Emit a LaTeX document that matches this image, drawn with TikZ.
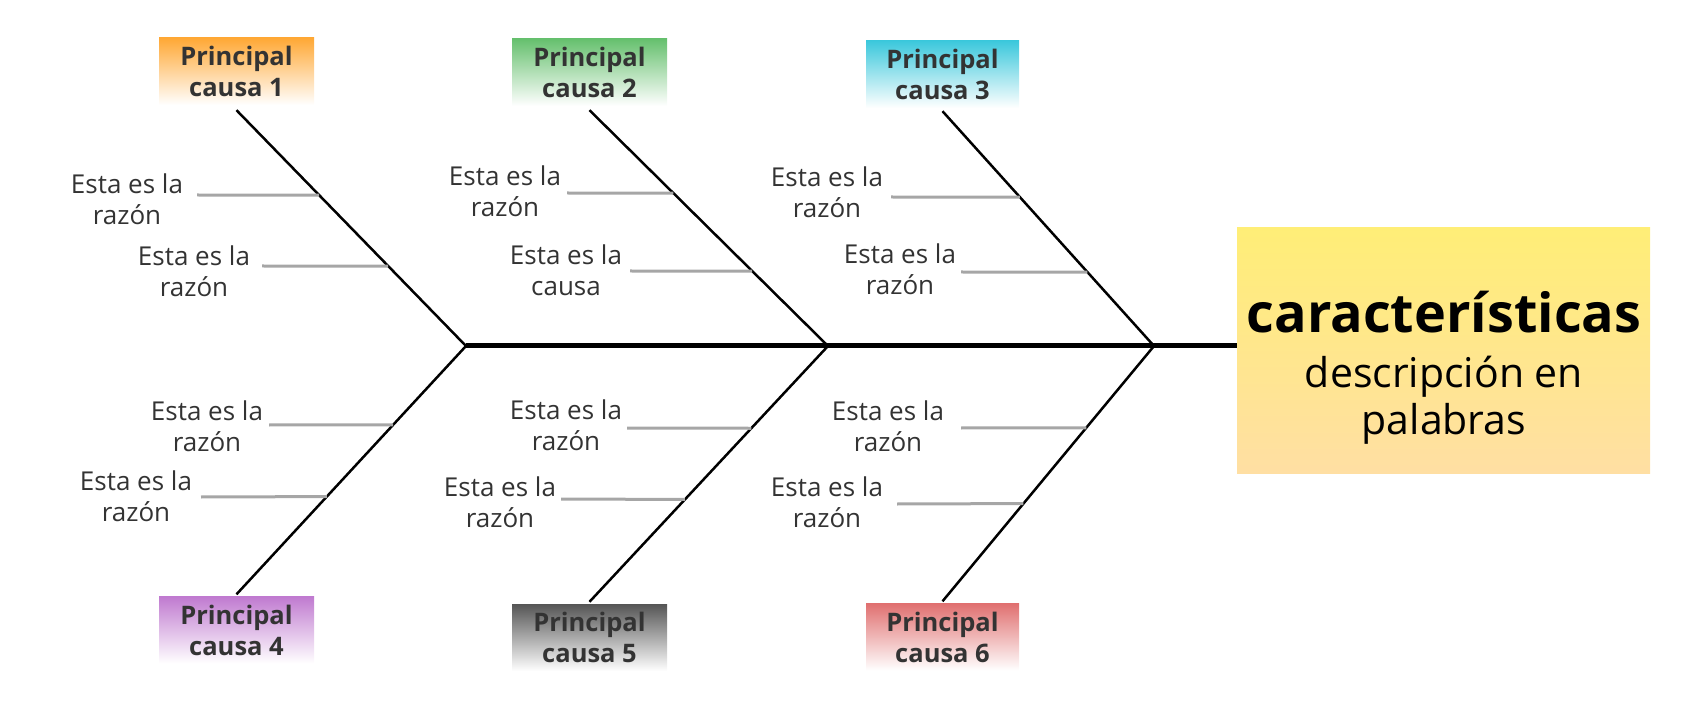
\documentclass[tikz,border=0pt]{standalone}
\usepackage{fontspec}
\setmainfont{Open Sans}
\usetikzlibrary{calc}
\definecolor{txt}{HTML}{333333}
\definecolor{twiggray}{HTML}{A6A6A6}
\definecolor{cOrange}{HTML}{FFA835}
\definecolor{cGreen}{HTML}{66C06E}
\definecolor{cCyan}{HTML}{3CC8DC}
\definecolor{cPurple}{HTML}{C07AD0}
\definecolor{cGray}{HTML}{555555}
\definecolor{cRed}{HTML}{E07070}
\definecolor{bigTop}{HTML}{FFEE77}
\definecolor{bigBot}{HTML}{FFDFA3}
\begin{document}
\begin{tikzpicture}[x=1pt,y=-1pt,
  cause/.style={minimum width=155pt,minimum height=67pt,inner sep=0pt,align=center,
    text=txt,font=\fontsize{25.5}{31}\selectfont\bfseries},
  reason/.style={align=center,text=txt,font=\fontsize{26}{31}\selectfont,inner sep=0pt},
  bone/.style={line width=2.5pt,black},
  spine/.style={line width=5pt,black},
  twig/.style={line width=3pt,twiggray}]
\useasboundingbox (0,0) rectangle (1687,711);

% cause boxes
\node[cause, top color=cOrange, bottom color=white] (b1) at (236.5,71.5) {Principal\\causa 1};
\node[cause, top color=cGreen,  bottom color=white] (b2) at (589.5,72.5) {Principal\\causa 2};
\node[cause, top color=cCyan,   bottom color=white, minimum width=153pt] (b3) at (942.5,74.5) {Principal\\causa 3};
\node[cause, top color=cPurple, bottom color=white] (b4) at (236.5,630) {Principal\\causa 4};
\node[cause, top color=cGray,   bottom color=white] (b5) at (589.5,637.5) {Principal\\causa 5};
\node[cause, top color=cRed,    bottom color=white, minimum width=153pt] (b6) at (942.5,637) {Principal\\causa 6};

% head box
\node[minimum width=413pt,minimum height=245pt,inner sep=0pt,
      top color=bigTop,bottom color=bigBot] (head) at (1443.5,350.5) {};
\node[anchor=base,inner sep=0pt,font=\fontsize{54}{60}\selectfont\bfseries] (h1) at (1444,333) {características};
\node[anchor=base,inner sep=0pt,font=\fontsize{41}{46}\selectfont] (h2) at (1444,388) {descripción en};
\node[anchor=base,inner sep=0pt,font=\fontsize{41}{46}\selectfont] (h3) at (1444,434) {palabras};

% junctions and branch ends
\coordinate (j1) at (466,346);
\coordinate (j2) at (828,346);
\coordinate (j3) at (1154,346);
\coordinate (t1) at ($(b1.south)+(0,5)$);
\coordinate (t2) at ($(b2.south)+(0,4)$);
\coordinate (t3) at ($(b3.south)+(0,3)$);
\coordinate (t4) at ($(b4.north)+(0,-2)$);
\coordinate (t5) at ($(b5.north)+(0,-2)$);
\coordinate (t6) at ($(b6.north)+(0,-2)$);

% spine and bones
\draw[spine] (j1) -- (j1 -| head.west);
\draw[bone] (j1) -- (t1);
\draw[bone] (j2) -- (t2);
\draw[bone] (j3) -- (t3);
\draw[bone] (j1) -- (t4);
\draw[bone] (j2) -- (t5);
\draw[bone] (j3) -- (t6);

% reason labels
\node[reason] (r11) at (127,199) {Esta es la\\razón};
\node[reason] (r12) at (194,271) {Esta es la\\razón};
\node[reason] (r21) at (505,191) {Esta es la\\razón};
\node[reason] (r22) at (566,270) {Esta es la\\causa};
\node[reason] (r31) at (827,192) {Esta es la\\razón};
\node[reason] (r32) at (900,269) {Esta es la\\razón};
\node[reason] (r41) at (207,426) {Esta es la\\razón};
\node[reason] (r42) at (136,496) {Esta es la\\razón};
\node[reason] (r51) at (566,425) {Esta es la\\razón};
\node[reason] (r52) at (500,502) {Esta es la\\razón};
\node[reason] (r61) at (888,426) {Esta es la\\razón};
\node[reason] (r62) at (827,502) {Esta es la\\razón};

% twig start points
\coordinate (s11) at (197,195);
\coordinate (s12) at (262,266);
\coordinate (s21) at (567,193);
\coordinate (s22) at (630,271);
\coordinate (s31) at (891,197);
\coordinate (s32) at (961,272);
\coordinate (s41) at (269,425);
\coordinate (s42) at (201,497);
\coordinate (s51) at (627,428);
\coordinate (s52) at (561,499);
\coordinate (s61) at (961,428);
\coordinate (s62) at (897,504);

% twigs
\draw[twig] (s11) -- ($(j1)!{(346-195)/236}!(t1)$);
\draw[twig] (s12) -- ($(j1)!{(346-266)/236}!(t1)$);
\draw[twig] (s21) -- ($(j2)!{(346-193)/236}!(t2)$);
\draw[twig] (s22) -- ($(j2)!{(346-271)/236}!(t2)$);
\draw[twig] (s31) -- ($(j3)!{(346-197)/235}!(t3)$);
\draw[twig] (s32) -- ($(j3)!{(346-272)/235}!(t3)$);
\draw[twig] (s41) -- ($(j1)!{(425-346)/249}!(t4)$);
\draw[twig] (s42) -- ($(j1)!{(497-346)/249}!(t4)$);
\draw[twig] (s51) -- ($(j2)!{(428-346)/255}!(t5)$);
\draw[twig] (s52) -- ($(j2)!{(499-346)/255}!(t5)$);
\draw[twig] (s61) -- ($(j3)!{(428-346)/256}!(t6)$);
\draw[twig] (s62) -- ($(j3)!{(504-346)/256}!(t6)$);
\end{tikzpicture}
\end{document}
